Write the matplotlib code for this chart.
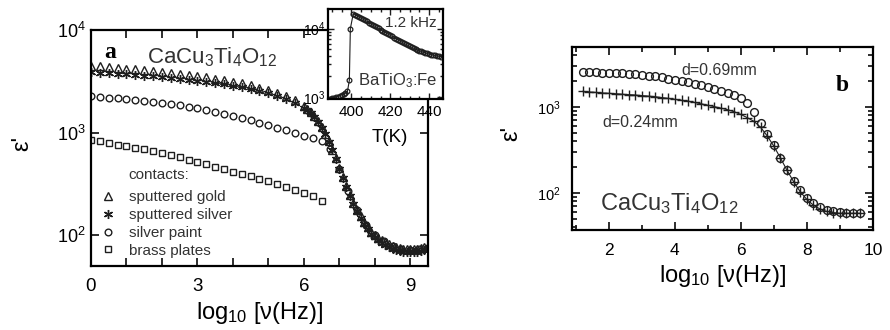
import matplotlib
matplotlib.use("Agg")
import matplotlib.pyplot as plt
from matplotlib.ticker import MultipleLocator, FixedLocator, LogLocator, NullFormatter

plt.rcParams['font.family'] = ['Liberation Sans', 'DejaVu Sans']
plt.rcParams['mathtext.fontset'] = 'custom'
plt.rcParams['mathtext.rm'] = 'Liberation Sans'
plt.rcParams['mathtext.it'] = 'Liberation Sans:italic'
plt.rcParams['mathtext.bf'] = 'Liberation Sans:bold'
plt.rcParams['axes.linewidth'] = 1.6

# ---------------- panel a : contacts ----------------
x_a = [0, 0.25, 0.5, 0.75, 1, 1.25, 1.5, 1.75, 2, 2.25, 2.5, 2.75, 3, 3.25, 3.5, 3.75,
       4, 4.25, 4.5, 4.75, 5, 5.25, 5.5, 5.75, 6,
       6.1, 6.2, 6.3, 6.4, 6.5, 6.6, 6.7, 6.8, 6.9, 7.0, 7.1, 7.2, 7.3, 7.4, 7.5, 7.6,
       7.7, 7.8, 7.9, 8.0, 8.1, 8.2, 8.3, 8.4, 8.5, 8.6, 8.7, 8.8, 8.9, 9.0, 9.1, 9.2,
       9.3, 9.4, 9.5]
gold = [4500, 4420, 4350, 4280, 4200, 4130, 4060, 3990, 3910, 3830, 3740, 3650, 3560,
        3460, 3360, 3250, 3140, 3020, 2890, 2750, 2600, 2440, 2270, 2060, 1800,
        1700, 1580, 1440, 1290, 1130, 970, 820, 680, 560, 455, 370, 300, 248, 207, 176,
        152, 133, 119, 108, 100, 94, 89, 85, 82, 79, 77, 75, 74, 73, 73, 73, 74, 75, 76, 78]
silver = [3900, 3850, 3800, 3750, 3700, 3650, 3600, 3540, 3480, 3420, 3350, 3280, 3210,
          3130, 3050, 2960, 2870, 2770, 2660, 2540, 2410, 2270, 2120, 1950, 1740,
          1650, 1540, 1410, 1270, 1120, 960, 810, 670, 550, 445, 360, 292, 240, 200, 170,
          146, 128, 114, 103, 95, 89, 84, 80, 77, 74, 72, 70, 69, 68, 68, 68, 69, 70, 71, 72]

x_paint = [0, 0.25, 0.5, 0.75, 1, 1.25, 1.5, 1.75, 2, 2.25, 2.5, 2.75, 3, 3.25, 3.5,
           3.75, 4, 4.25, 4.5, 4.75, 5, 5.25, 5.5, 5.75, 6, 6.25, 6.5, 6.75, 7, 7.25,
           7.5, 7.75, 8, 8.25, 8.5, 8.75, 9, 9.25, 9.5]
paint = [2250, 2220, 2190, 2160, 2130, 2090, 2050, 2000, 1950, 1900, 1840, 1780, 1720,
         1660, 1600, 1530, 1460, 1390, 1320, 1250, 1180, 1110, 1050, 990, 930,
         880, 820, 690, 440, 270, 175, 125, 100, 87, 79, 74, 72, 73, 75]

x_brass = [0, 0.25, 0.5, 0.75, 1, 1.25, 1.5, 1.75, 2, 2.25, 2.5, 2.75, 3, 3.25, 3.5,
           3.75, 4, 4.25, 4.5, 4.75, 5, 5.25, 5.5, 5.75, 6, 6.25, 6.5]
brass = [850, 820, 790, 765, 740, 710, 685, 655, 630, 600, 575, 545, 515, 490, 465, 440,
         415, 395, 375, 355, 335, 315, 295, 278, 260, 240, 215]

labels_a = ["sputtered gold", "sputtered silver", "silver paint", "brass plates"]

# inset: BaTiO3:Fe at 1.2 kHz
T_in = [389, 390, 391, 392, 393, 394, 395, 396, 397, 398, 399, 399.5,
        401, 402, 403, 404, 405, 406, 407, 408, 409, 410, 411, 412, 413, 414, 415, 416,
        417, 418, 419, 420, 421, 422, 423, 424, 425, 426, 427, 428, 429, 430, 431, 432,
        433, 434, 435, 436, 437, 438, 439, 440, 441, 442, 443, 444, 445, 446]
eps_in = [930, 950, 970, 990, 1010, 1040, 1070, 1100, 1140, 1200, 1750, 10000,
          16600, 16000, 15400, 14800, 14300, 13800, 13300, 12800, 12300, 11800, 11300,
          10900, 10500, 10100, 9700, 9300, 9000, 8600, 8300, 8000, 7700, 7400, 7100,
          6850, 6600, 6350, 6100, 5900, 5700, 5500, 5330, 5170, 5020, 4880, 4750, 4630,
          4520, 4420, 4330, 4250, 4180, 4110, 4050, 3990, 3940, 3890]

# ---------------- panel b : thickness ----------------
x_b = [1.2, 1.4, 1.6, 1.8, 2.0, 2.2, 2.4, 2.6, 2.8, 3.0, 3.2, 3.4, 3.6, 3.8, 4.0, 4.2,
       4.4, 4.6, 4.8, 5.0, 5.2, 5.4, 5.6, 5.8, 6.0, 6.2, 6.4, 6.6, 6.8, 7.0, 7.2, 7.4,
       7.6, 7.8, 8.0, 8.2, 8.4, 8.6, 8.8, 9.0, 9.2, 9.4, 9.6]
thick = [2550, 2540, 2530, 2520, 2500, 2480, 2460, 2430, 2400, 2370, 2330, 2280, 2220,
         2150, 2080, 2010, 1940, 1870, 1790, 1710, 1630, 1550, 1470, 1380, 1280,
         1120, 870, 650, 490, 360, 255, 185, 138, 107, 88, 76, 69, 64, 61, 60, 59, 59, 59]
thin = [1520, 1500, 1480, 1460, 1445, 1430, 1410, 1395, 1380, 1360, 1340, 1320, 1290,
        1260, 1230, 1200, 1170, 1130, 1090, 1050, 1010, 970, 930, 880, 820,
        750, 680, 580, 460, 350, 255, 183, 135, 103, 84, 72, 65, 61, 59, 58, 58, 58, 58]

ink = "#1e1e1e"
xlab = "log$_{10}$ [ν(Hz)]"

fig = plt.figure(figsize=(8.9, 3.3), dpi=100)

# ---- panel a
axa = fig.add_axes([0.1022, 0.194, 0.3787, 0.715])
axa.set_yscale("log")
mk = dict(ls="none", mfc="none", mec=ink, mew=1.0)
axa.plot(x_a, gold, marker="^", ms=5.5, label=labels_a[0], **mk)
axa.plot(x_a, silver, marker=(6, 2, 0), ms=6.5, label=labels_a[1], **mk)
axa.plot(x_paint, paint, marker="o", ms=4.8, label=labels_a[2], **mk)
axa.plot(x_brass, brass, marker="s", ms=4.8, label=labels_a[3], **mk)
axa.set_xlim(0, 9.5)
axa.set_ylim(50, 1e4)
axa.xaxis.set_major_locator(MultipleLocator(3))
axa.xaxis.set_minor_locator(MultipleLocator(1))
axa.yaxis.set_minor_locator(FixedLocator([]))
axa.tick_params(which="both", direction="in", top=True, right=True, width=1.3,
                length=6, color=ink)
axa.tick_params(axis="x", labelsize=13.5, pad=9)
axa.tick_params(axis="y", labelsize=13, pad=4)
axa.set_xlabel(xlab, fontsize=17, labelpad=3)
axa.set_ylabel("ε'", fontsize=17)
axa.yaxis.set_label_coords(-0.17, 0.52)
axa.text(0.056, 0.905, "a", transform=axa.transAxes, fontsize=17, fontweight="bold",
         family="Liberation Serif", ha="center", va="center")
axa.text(0.166, 0.86, "CaCu$_3$Ti$_4$O$_{12}$", transform=axa.transAxes, fontsize=16,
         ha="left", va="baseline", color="#333333")
axa.text(0.11, 0.386, "contacts:", transform=axa.transAxes, fontsize=11,
         ha="left", va="center", color="#333333")
axa.legend(loc="lower left", bbox_to_anchor=(0.028, 0.035), frameon=False, fontsize=11,
           numpoints=1, handlelength=1.0, handletextpad=0.85, labelspacing=0.25,
           borderpad=0, borderaxespad=0, labelcolor="#333333")

# ---- inset
axi = fig.add_axes([0.3685, 0.70, 0.129, 0.273])
axi.set_facecolor("white")
axi.set_yscale("log")
axi.plot(T_in, eps_in, color=ink, lw=0.8, marker="o", ms=3.4, mfc="none", mec=ink, mew=0.9)
axi.set_xlim(388, 447)
axi.set_ylim(930, 19500)
axi.xaxis.set_major_locator(FixedLocator([400, 420, 440]))
axi.xaxis.set_minor_locator(MultipleLocator(5))
axi.yaxis.set_minor_formatter(NullFormatter())
axi.tick_params(which="both", direction="in", top=True, right=True, width=1.0, color=ink)
axi.tick_params(which="major", length=4)
axi.tick_params(which="minor", length=2.5)
axi.tick_params(axis="x", labelsize=11, pad=4)
axi.tick_params(axis="y", labelsize=10, pad=2)
axi.text(0.95, 0.84, "1.2 kHz", transform=axi.transAxes, fontsize=11, ha="right",
         va="center", color="#333333")
axi.text(0.95, 0.2, "BaTiO$_3$:Fe", transform=axi.transAxes, fontsize=12, ha="right",
         va="center", color="#333333")
fig.text(0.438, 0.582, "T(K)", fontsize=13.5, ha="center", va="center")

# ---- panel b
axb = fig.add_axes([0.6427, 0.303, 0.338, 0.5545])
axb.set_yscale("log")
axb.plot(x_b, thick, marker="o", ms=5.6, **mk)
axb.plot(x_b, thin, color=ink, lw=0.8, marker="+", ms=7.5, mec=ink, mew=1.0)
axb.set_xlim(0.88, 10)
axb.set_ylim(37, 5000)
axb.xaxis.set_major_locator(MultipleLocator(2))
axb.xaxis.set_minor_locator(MultipleLocator(1))
axb.yaxis.set_minor_formatter(NullFormatter())
axb.tick_params(which="both", direction="in", top=True, right=True, width=1.3, color=ink)
axb.tick_params(which="major", length=6)
axb.tick_params(which="minor", length=3.5)
axb.tick_params(axis="x", labelsize=12.5, pad=9)
axb.tick_params(axis="y", labelsize=10.5, pad=8)
axb.set_xlabel(xlab, fontsize=17, labelpad=4)
axb.set_ylabel("ε'", fontsize=17)
axb.yaxis.set_label_coords(-0.165, 0.53)
axb.text(0.9, 0.79, "b", transform=axb.transAxes, fontsize=17, fontweight="bold",
         family="Liberation Serif", ha="center", va="center")
axb.text(0.365, 0.874, "d=0.69mm", transform=axb.transAxes, fontsize=11.5, ha="left",
         va="center", color="#333333")
axb.text(0.1, 0.585, "d=0.24mm", transform=axb.transAxes, fontsize=11.5, ha="left",
         va="center", color="#333333")
axb.text(0.093, 0.11, "CaCu$_3$Ti$_4$O$_{12}$", transform=axb.transAxes, fontsize=17,
         ha="left", va="baseline", color="#333333")

fig.savefig("out.png", dpi=100)
